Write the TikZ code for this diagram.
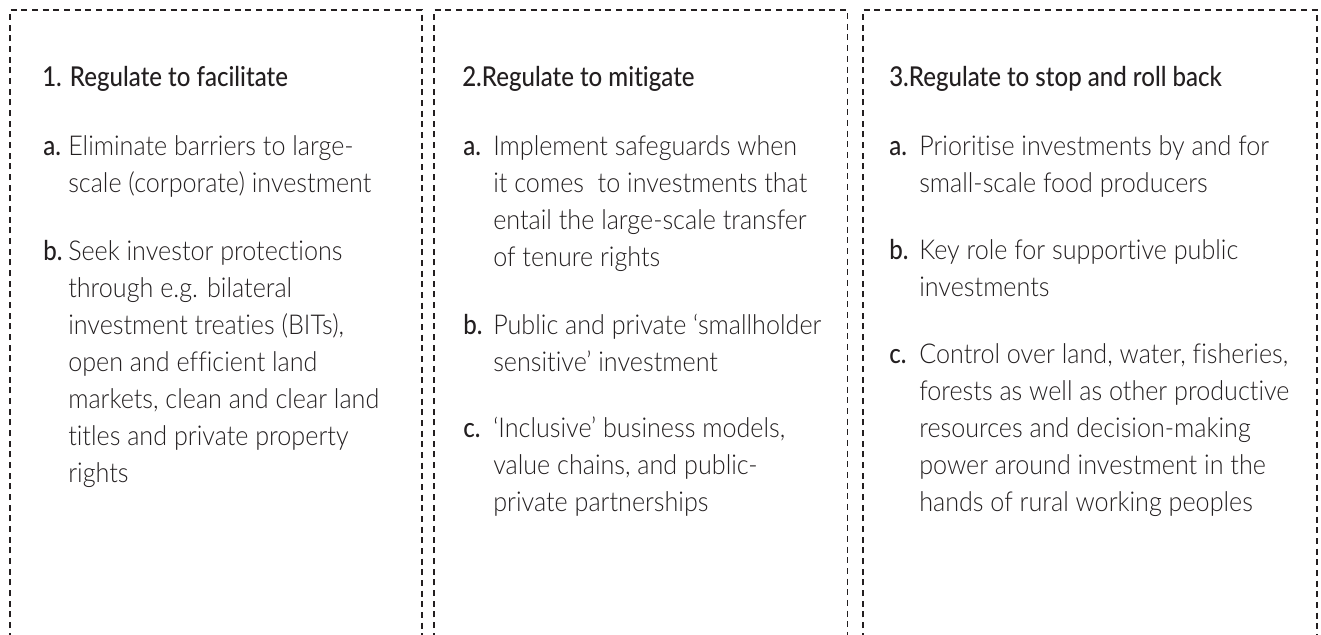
\documentclass[tikz,border=0pt]{standalone}
\usepackage{fontspec}
\newfontfamily\bodyfont{Lato Light}[FakeStretch=0.92, Ligatures={NoCommon,NoContextual}]
\newfontfamily\headfont{Lato Medium}[FakeStretch=0.88, Ligatures={NoCommon,NoContextual}]
\definecolor{ink}{HTML}{231F20}
\tikzset{
  box/.style={draw=ink, line width=0.8pt, dash pattern=on 4.5pt off 3.5pt},
  head/.style={font=\headfont\fontsize{20.5}{24}\selectfont, text=ink, inner sep=0pt, anchor=base west},
  lab/.style={head},
  body/.style={font=\bodyfont\fontsize{20.5}{24}\selectfont, text=ink, inner sep=0pt, anchor=base west},
}
\newcommand\mkitem[6]{%
  \node[lab] (#1) at (#2,#4) {#5};
  \foreach \lineText [count=\i from 0] in {#6} {
    \node[body] (#1-\i) at (#3,#4+37*\i) {\lineText};
  }
}
\begin{document}
\begin{tikzpicture}[x=0.75pt,y=-0.75pt]
\useasboundingbox (0,0) rectangle (1321,635);
\clip (0,0) rectangle (1321,635);
% boxes
\draw[box] (10,660) -- (10,10) -- (422,10) -- (422,660);
\draw[box] (434,660) -- (434,10) -- (847.5,10) -- (847.5,660);
\draw[box] (863,660) -- (863,10) -- (1317,10) -- (1317,660);
% column 1
\node[head] (t1) at (42,87) {1. Regulate to facilitate};
\mkitem{c1a}{43}{68}{155}{a.}{Eliminate barriers to large-,scale (corporate) investment}
\mkitem{c1b}{43}{68}{260}{b.}{Seek investor protections,through e.g. bilateral,{investment treaties (BITs),},open and efficient land,{markets, clean and clear land},titles and private property,rights}
% column 2
\node[head] (t2) at (462,87) {2.Regulate to mitigate};
\mkitem{c2a}{463}{493}{155}{a.}{Implement safeguards when,it comes\ \ to investments that,entail the large-scale transfer,of tenure rights}
\mkitem{c2b}{463}{493}{334}{b.}{Public and private ‘smallholder,sensitive’ investment}
\mkitem{c2c}{463}{493}{437}{c.}{{‘Inclusive’ business models,},{value chains, and public-},private partnerships}
% column 3
\node[head] (t3) at (889,87) {3.Regulate to stop and roll back};
\mkitem{c3a}{889}{919}{155}{a.}{Prioritise investments by and for,small-scale food producers}
\mkitem{c3b}{889}{919}{259}{b.}{Key role for supportive public,investments}
\mkitem{c3c}{889}{919}{363}{c.}{{Control over land, water, fisheries,},forests as well as other productive,resources and decision-making,power around investment in the,hands of rural working peoples}
\end{tikzpicture}
\end{document}
